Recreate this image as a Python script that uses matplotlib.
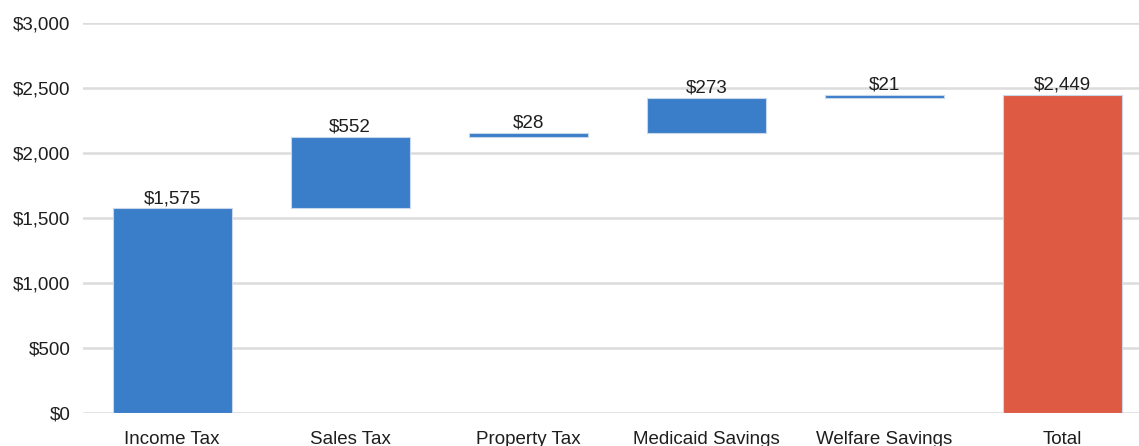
import matplotlib.pyplot as plt
import numpy as np

# Waterfall data
categories = ['Income Tax', 'Sales Tax', 'Property Tax', 'Medicaid Savings', 'Welfare Savings', 'Total']
steps = [1575, 552, 28, 273, 21]
total = 2449
yticks = [0, 500, 1000, 1500, 2000, 2500, 3000]

plt.rcParams['font.family'] = ['Liberation Sans', 'DejaVu Sans']

blue = '#3a7dc9'
red = '#df5a43'

bottoms = np.concatenate([[0], np.cumsum(steps)[:-1]])
heights = list(steps) + [total]
bottoms = list(bottoms) + [0]
colors = [blue] * len(steps) + [red]

fig = plt.figure(figsize=(11.39, 4.46), dpi=100)
ax = fig.add_axes([0.073, 0.074, 0.927, 0.874])

x = np.arange(len(categories))
ax.bar(x, heights, bottom=bottoms, width=0.67, color=colors,
       edgecolor='#c8d8ea', linewidth=0.8, zorder=3)

for xi, h, b in zip(x, heights, bottoms):
    ax.text(xi, b + h + 8, f"${h:,}", ha='center', va='bottom',
            fontsize=13.5, color='#1e1e1e', zorder=4)

ax.set_xlim(-0.5, 5.43)
ax.set_ylim(0, 3000)
ax.set_yticks(yticks)
ax.set_yticklabels([f"${v:,}" for v in yticks])
ax.set_xticks(x)
ax.set_xticklabels(categories)
ax.tick_params(axis='both', length=0, labelsize=13.5, colors='#1e1e1e')
ax.tick_params(axis='x', pad=13)
ax.tick_params(axis='y', pad=9)
ax.grid(axis='y', color='#dcdcdc', linewidth=1.8, zorder=0)
for s in ax.spines.values():
    s.set_visible(False)

plt.savefig('out.png', dpi=100, facecolor='white')
